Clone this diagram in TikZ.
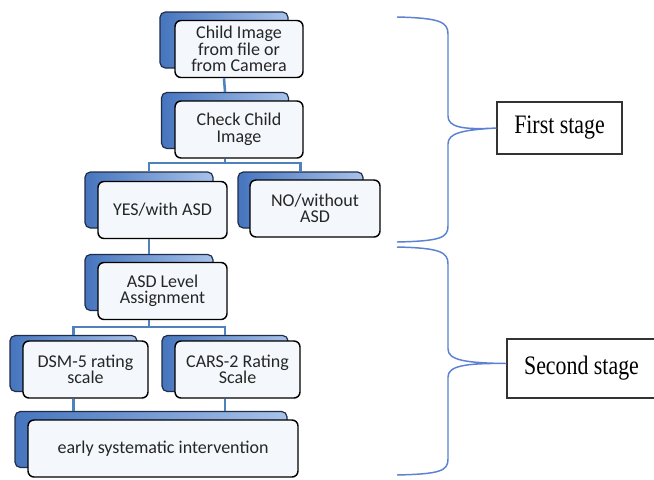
\documentclass[tikz,border=0pt]{standalone}
\usepackage{fontspec}
\newfontfamily\boxfont{Carlito}
\newfontfamily\stagefont{Liberation Serif}
\usetikzlibrary{calc}
\definecolor{linkblue}{HTML}{4F81BD}
\definecolor{bracecol}{HTML}{5B82D2}
\definecolor{backdark}{HTML}{1F2D48}
\definecolor{backleft}{HTML}{4675BE}
\definecolor{backright}{HTML}{A8C2EA}
\definecolor{frontfill}{HTML}{F4F7FB}
\tikzset{
  backbox/.style={rounded corners=4pt, draw=backdark, line width=0.9pt,
    left color=backleft, right color=backright,
    minimum width=#1*0.75pt, minimum height=56*0.75pt, inner sep=0pt},
  frontbox/.style={rounded corners=4.5pt, draw=black, line width=1.1pt,
    fill=frontfill, minimum width=#1*0.75pt, minimum height=57*0.75pt,
    inner sep=0pt, align=center, text=black!85,
    font=\boxfont\fontsize{13.5}{12.4}\selectfont},
  link/.style={draw=linkblue, line width=1.9pt},
  brace/.style={draw=bracecol, line width=1.1pt},
  stagebox/.style={draw=black!80, line width=0.8pt, fill=white,
    inner sep=0pt, font=\stagefont\fontsize{20}{22}\selectfont}
}
\begin{document}
\begin{tikzpicture}[x=0.75pt,y=-0.75pt]
\useasboundingbox (0,0) rectangle (654,479);
\clip (0,0) rectangle (654,479);
\fill[white] (0,0) rectangle (654,479);

% box pairs
\node[backbox=128] (childB) at (224,40) {};
\node[frontbox=128] (childF) at (239,49) {Child Image\\from file or\\from Camera};

\node[backbox=127] (checkB) at (225,120.5) {};
\node[frontbox=128] (checkF) at (239,129.5) {Check Child\\Image};

\node[backbox=128] (yesB) at (149,200) {};
\node[frontbox=129] (yesF) at (162.5,210) {YES/with ASD};

\node[backbox=125] (noB) at (300.5,200) {};
\node[frontbox=130] (noF) at (315,208.5) {NO/without\\ASD};

\node[backbox=128] (asdB) at (149,282.5) {};
\node[frontbox=129] (asdF) at (162.5,291) {ASD Level\\Assignment};

\node[backbox=127] (dsmB) at (73.5,363.5) {};
\node[frontbox=125] (dsmF) at (85.5,369.5) {DSM-5 rating\\scale};

\node[backbox=126] (carsB) at (225,363.5) {};
\node[frontbox=125] (carsF) at (237.5,369.5) {CARS-2 Rating\\Scale};

\node[backbox=272] (earlyB) at (151,439.5) {};
\node[frontbox=270] (earlyF) at (163,448.5) {early systematic intervention};

% connectors
\coordinate (bar1) at (0,163);
\coordinate (bar2) at (0,327);
\draw[link] (childB.center |- childF.south) -- (checkB.north);
\draw[link] (checkB.center |- checkF.south) -- (checkB.center |- bar1);
\draw[link] (yesB.north) -- (yesB.north |- bar1) -- (noB.north |- bar1) -- (noB.north);
\draw[link] (yesB.center |- yesF.south) -- (asdB.north);
\draw[link] (asdB.center |- asdF.south) -- (asdB.center |- bar2);
\draw[link] (dsmB.north) -- (dsmB.north |- bar2) -- (carsB.north |- bar2) -- (carsB.north);
\draw[link] (dsmB.center |- dsmF.south) -- (dsmB.center |- earlyB.north);
\draw[link] (carsB.center |- carsF.south) -- (carsB.center |- earlyB.north);

% stage boxes
\node[stagebox, minimum width=125*0.75pt, minimum height=52*0.75pt] (fs) at (559.5,128) {\scalebox{0.82}[1]{First stage}};
\node[stagebox, minimum width=149*0.75pt, minimum height=59*0.75pt] (ss) at (581.5,368.5) {\scalebox{0.82}[1]{Second stage}};

% braces
\coordinate (b1top) at (397,17);
\coordinate (b1bot) at (397,242);
\coordinate (b2top) at (397,247);
\coordinate (b2bot) at (397,475);
\coordinate (c1) at (fs.west);
\coordinate (c2) at ($(ss.west)+(0,-5)$);
\draw[brace] (b1top) .. controls (440,18) and (448,22) .. (448,34)
  -- (448,116) .. controls (448,127) and (462,130) .. (c1)
  .. controls (462,130) and (448,133) .. (448,144)
  -- (448,226) .. controls (448,238) and (440,241) .. (b1bot);
\draw[brace] (b2top) .. controls (440,248) and (448,252) .. (448,264)
  -- (448,349) .. controls (448,360) and (465,363) .. (c2)
  .. controls (465,363) and (448,366) .. (448,377)
  -- (448,459) .. controls (448,471) and (440,474) .. (b2bot);
\end{tikzpicture}
\end{document}
